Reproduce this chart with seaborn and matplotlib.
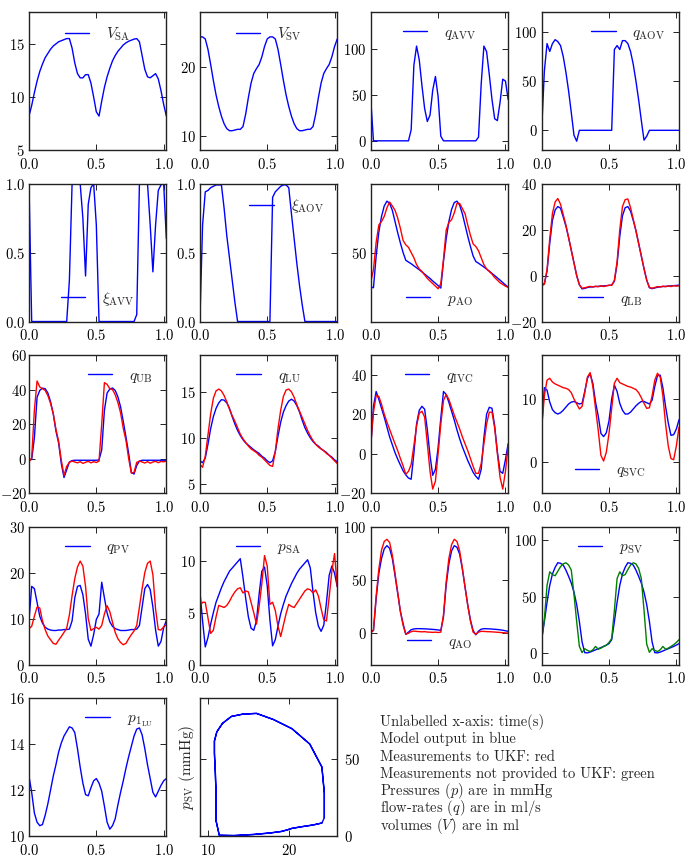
import numpy as np
import seaborn as sns
import matplotlib as mpl
mpl.use('Agg')
import matplotlib.pyplot as plt

# time axis: two heart beats, read every 0.02 s (52 samples)
t = np.linspace(0, 1.02, 52)

# each list: 4 rows of 13 samples (0-0.24, 0.26-0.50, 0.52-0.76, 0.78-1.02)
v_sa = [8.2, 9.2, 10.4, 11.5, 12.4, 13.1, 13.7, 14.1, 14.5, 14.8, 15.0, 15.2, 15.3,
        15.4, 15.5, 15.5, 14.6, 13.2, 12.2, 11.8, 11.8, 12.1, 12.1, 11.3, 10.0, 8.6,
        8.2, 9.6, 10.9, 11.9, 12.7, 13.4, 13.9, 14.3, 14.6, 14.9, 15.1, 15.25, 15.35,
        15.45, 15.5, 15.2, 13.9, 12.6, 11.9, 11.8, 12.0, 12.2, 11.7, 10.6, 9.3, 8.2]

v_sv = [24.4, 24.4, 24.1, 22.6, 20.4, 18.1, 16.0, 14.3, 12.9, 11.8, 11.1, 10.8, 10.8,
        10.9, 11.0, 11.0, 11.4, 13.2, 15.6, 17.7, 19.1, 19.8, 20.4, 21.5, 23.0, 24.1,
        24.4, 24.4, 24.1, 22.6, 20.4, 18.1, 16.0, 14.3, 12.9, 11.8, 11.1, 10.8, 10.8,
        10.9, 11.0, 11.0, 11.4, 13.2, 15.6, 17.7, 19.1, 19.8, 20.4, 21.5, 23.0, 24.1]

q_avv = [45, 0, 0, 0, 0, 0, 0, 0, 0, 0, 0, 0, 0,
         0, 0, 12, 82, 103, 88, 60, 35, 21, 28, 55, 70, 48,
         5, 0, 0, 0, 0, 0, 0, 0, 0, 0, 0, 0, 0,
         0, 4, 62, 103, 97, 72, 45, 24, 22, 42, 67, 65, 45]

q_aov = [0, 60, 88, 80, 88, 92, 90, 86, 75, 59, 40, 18, -5,
         -11, 0, 0, 0, 0, 0, 0, 0, 0, 0, 0, 0, 0,
         0, 82, 86, 82, 91, 91, 88, 80, 67, 50, 31, 10, -10,
         -6, 0, 0, 0, 0, 0, 0, 0, 0, 0, 0, 0, 0]

xi_avv = [1.0, 0, 0, 0, 0, 0, 0, 0, 0, 0, 0, 0, 0,
          0, 0, 0.3, 1.0, 1.0, 1.0, 1.0, 0.75, 0.33, 0.85, 0.97, 1.0, 0.7,
          0, 0, 0, 0, 0, 0, 0, 0, 0, 0, 0, 0, 0,
          0, 0.05, 1.0, 1.0, 1.0, 1.0, 0.7, 0.36, 0.7, 0.95, 0.99, 1.0, 0.6]

xi_aov = [0, 0.7, 0.94, 0.95, 0.97, 0.98, 0.99, 0.99, 0.99, 0.82, 0.62, 0.46, 0.30,
          0.14, 0, 0, 0, 0, 0, 0, 0, 0, 0, 0, 0, 0,
          0, 0.9, 0.94, 0.96, 0.98, 0.99, 0.99, 0.97, 0.78, 0.60, 0.42, 0.26, 0.12,
          0, 0, 0, 0, 0, 0, 0, 0, 0, 0, 0, 0, 0]

p_ao = [30.0, 29.6, 48, 62, 71, 77, 79.8, 78.5, 74.5, 68, 61.5, 55.5, 50,
        45.5, 44.5, 43.5, 42.3, 41.2, 40, 38.8, 37.5, 36.2, 35, 33.5, 32.2, 30.8,
        29.4, 45, 58, 68, 75, 79, 79.8, 77.5, 72.5, 66, 59.5, 53.5, 48,
        44.8, 43.8, 42.7, 41.6, 40.4, 39.2, 37.9, 36.6, 35.3, 34, 32.6, 31.2, 30]
p_ao_meas = [33, 40, 56, 66, 68, 71, 76, 79.3, 77, 74.5, 70, 64, 57,
             54.5, 53, 50, 47, 43, 40.5, 39, 37, 35, 33.5, 32, 30.5, 29,
             32, 46, 63, 67.5, 69, 73, 78.5, 78.5, 75.5, 72.5, 66, 60, 55,
             53.5, 51, 47, 43, 40.5, 39, 37.5, 35.5, 34, 32.5, 31.5, 30.5, 29.8]

q_lb = [-4.2, -3.5, 2, 14, 24, 28.5, 30, 29.3, 25.5, 21.5, 16.5, 11, 5.5,
        0, -4, -5.8, -5.6, -5.2, -5, -4.9, -4.8, -4.7, -4.6, -4.5, -4.4, -4.3,
        -4.1, -2.5, 5, 17, 26, 29.5, 30, 28, 24, 19.5, 14, 8.5, 3,
        -2, -5.3, -5.7, -5.4, -5.1, -4.9, -4.8, -4.7, -4.6, -4.5, -4.4, -4.3, -4.2]
q_lb_meas = [-4.5, -3.8, 2.5, 16, 27, 32, 33.5, 31, 26.5, 22, 16.5, 11, 5.5,
             0, -4, -5.5, -5.3, -5, -4.7, -5, -4.6, -4.9, -4.4, -4.8, -4.5, -4.2,
             -4.3, -2, 6, 20, 30, 33, 33.3, 29.5, 24.5, 19.5, 14, 8.5, 3,
             -2, -5.2, -5.5, -5.2, -4.8, -5, -4.6, -4.9, -4.5, -4.8, -4.4, -4.6, -4.5]

q_ub = [-1, -0.5, 12, 35.5, 39.5, 40.8, 40.5, 38, 33, 26, 16, 9, -3,
        -11, -6.5, -2, -1.2, -1, -1, -1, -1, -1, -1, -1, -1, -1,
        -0.8, 5, 28, 38, 40.3, 40.9, 39.5, 35.8, 30, 21.5, 12.5, 3, -8,
        -9, -4, -1.5, -1, -1, -1, -1, -1, -1, -1, -1, -1, -1]
q_ub_meas = [-2, 0.5, 28, 45, 41.5, 40.5, 39.5, 36.5, 32, 26, 17, 10, -1,
             -9.8, -4.5, -2.2, -1.5, -2, -2.5, -1.8, -2.8, -2.2, -1.6, -2.5, -1.8, -2.3,
             -1.5, 20, 44, 43, 40.5, 40, 37, 32.5, 26.5, 17.5, 10.5, 0, -8.5,
             -8, -2.2, -1.5, -2, -2.6, -1.8, -2.7, -2, -1.6, -2.4, -1.7, -1.9, -1.5]

q_lu = [7.5, 7.3, 7.8, 9.3, 11.0, 12.3, 13.2, 13.8, 14.15, 14.1, 13.8, 13.2, 12.3,
        11.5, 10.8, 10.25, 9.8, 9.45, 9.2, 8.95, 8.7, 8.5, 8.3, 8.0, 7.8, 7.5,
        7.3, 7.5, 8.5, 10.2, 11.7, 12.8, 13.5, 14.0, 14.2, 14.0, 13.5, 12.8, 11.9,
        11.1, 10.5, 10.0, 9.6, 9.3, 9.1, 8.8, 8.6, 8.4, 8.1, 7.9, 7.6, 7.4]
q_lu_meas = [7.1, 6.8, 8.0, 10.3, 12.6, 14.3, 15.1, 15.3, 15.1, 14.6, 13.9, 13.1, 12.4,
             11.8, 11.1, 10.4, 9.9, 9.5, 9.1, 8.8, 8.6, 8.4, 8.1, 7.9, 7.6, 7.3,
             7.0, 6.9, 8.5, 11.0, 13.0, 14.5, 15.2, 15.3, 15.0, 14.4, 13.6, 12.9, 12.2,
             11.5, 10.8, 10.2, 9.7, 9.3, 9.0, 8.8, 8.6, 8.3, 8.1, 7.8, 7.5, 7.2]

q_ivc = [3, 24, 31.5, 27.5, 23, 18.5, 13.5, 8.5, 4.5, 0.5, -2.8, -5.8, -8.7,
         -10.8, -12.4, -13, 0, 15, 22, 24, 22.5, 12, -1, -11, -8, 3,
         18, 31.5, 30, 26, 21.5, 17, 12, 7.5, 3.5, 0, -3.5, -6.5, -9.5,
         -11.5, -13, -8, 8, 20, 23.5, 23, 14, 1, -9, -10, -3, 5]
q_ivc_meas = [5, 21, 29.5, 29, 25, 20, 16, 12.3, 8.6, 5, 1.5, -2.5, -6.2,
              -10.5, -9, -5.5, 4, 14, 20.5, 21.5, 18.5, 5, -9, -18, -14, 0,
              15, 27, 30, 27.5, 23.5, 19.5, 16, 12.5, 8.5, 5, 1.5, -2.5, -6.5,
              -10, -10, -5, 5, 15, 21, 21, 13, 0, -12, -18, -9, 4]

q_svc = [5.5, 11.8, 11.4, 9.5, 8.3, 7.8, 7.6, 7.8, 8.2, 8.7, 9.2, 9.5, 9.6,
         9.4, 9.2, 9.3, 11.2, 13.3, 14.0, 12.5, 9.5, 7.3, 4.5, 4.0, 4.6, 6.5,
         10.0, 12.2, 11.2, 9.3, 8.2, 7.6, 7.6, 7.9, 8.4, 8.9, 9.3, 9.6, 9.6,
         9.4, 9.2, 9.8, 12.0, 13.7, 13.8, 11.8, 8.8, 6.2, 4.2, 4.3, 5.2, 6.7]
q_svc_meas = [5.3, 10.5, 13, 13.3, 12.7, 12.4, 12.2, 12, 11.8, 11.7, 11.5, 11.0, 10.0,
              9.2, 8.4, 8.8, 11, 13.5, 14.2, 12, 8.5, 5, 1, 0.1, 1.5, 4.5,
              8.5, 12.5, 13.3, 12.6, 12.4, 12.2, 12.0, 11.9, 11.7, 11.5, 11.0, 10.2, 9.3,
              8.5, 8.6, 10.5, 13, 14.1, 13.5, 10.5, 6, 2.5, 0.5, 0.3, 2.5, 5.5]

q_pv = [9.6, 17.0, 16.5, 13.5, 10.5, 9.0, 8.1, 7.7, 7.5, 7.4, 7.4, 7.5, 7.5,
        7.6, 7.6, 7.7, 9.5, 14.5, 17.0, 17.2, 15.2, 11.0, 5.5, 4.0, 6.5, 9.8,
        11.0, 17.9, 14.5, 11.2, 9.3, 8.3, 7.8, 7.6, 7.4, 7.4, 7.4, 7.5, 7.6,
        7.6, 7.7, 8.5, 12.5, 16.5, 17.4, 16.3, 12.5, 7.5, 4.0, 5.0, 8.0, 9.6]
q_pv_meas = [7.8, 8.3, 10.5, 12.5, 12.3, 9.5, 7.6, 6.2, 5.4, 4.6, 4.4, 5.3, 6.1,
             7.0, 7.9, 10.8, 15.0, 18.7, 21.2, 22.5, 21.4, 17.0, 10.0, 7.4, 7.8, 8.1,
             7.7, 8.5, 11.0, 12.8, 11.5, 9.2, 7.0, 5.6, 4.8, 4.3, 4.6, 5.6, 6.5,
             7.3, 8.5, 12.5, 16.5, 20.0, 22.0, 22.5, 19.5, 12.0, 7.6, 7.5, 8.2, 8.7]

p_sa = [7.1, 4.2, 1.7, 2.6, 3.9, 5.0, 6.0, 6.7, 7.4, 8.0, 8.5, 9.0, 9.3,
        9.6, 9.9, 10.2, 8.4, 6.4, 4.6, 3.5, 3.3, 4.2, 6.8, 9.0, 9.4, 7.6,
        4.3, 1.8, 2.4, 3.7, 4.9, 5.8, 6.6, 7.2, 7.8, 8.3, 8.8, 9.2, 9.5,
        9.8, 10.1, 9.3, 7.0, 5.0, 3.7, 3.2, 3.8, 6.0, 8.6, 9.5, 8.8, 7.5]
p_sa_meas = [5.6, 6.0, 6.0, 4.5, 3.0, 3.3, 4.6, 5.7, 5.6, 5.5, 5.7, 6.1, 6.6,
             7.0, 7.3, 7.4, 6.9, 7.1, 7.0, 6.0, 5.0, 3.9, 5.6, 7.8, 10.5, 9.5,
             5.8, 6.0, 5.2, 3.7, 2.7, 3.8, 4.9, 5.8, 5.6, 5.5, 5.9, 6.3, 6.7,
             7.1, 7.3, 7.2, 6.9, 7.2, 6.6, 5.4, 4.3, 4.2, 6.5, 9.0, 10.7, 7.5]

q_ao = [0.6, 2, 32, 56, 70, 79, 82, 79.5, 70, 54, 37, 20, 8.5,
        -1.5, 0.5, 2.8, 3.5, 3.8, 3.8, 3.7, 3.6, 3.5, 3.3, 3.1, 2.9, 2.6,
        2.2, 15, 45, 65, 77, 82, 80.5, 74, 60, 43, 26, 12, 2,
        -2, 1.5, 3.3, 3.8, 3.7, 3.6, 3.4, 3.2, 3.0, 2.7, 2.3, 1.8, 1.3]
q_ao_meas = [-0.3, 2.5, 35, 60, 78, 86, 88, 85, 73, 56, 38, 20, 7,
             -1.5, -0.5, 1, 1.5, 1.2, 1.0, 0.8, 1.0, 0.6, 0.5, 0.3, 0.5, 0.2,
             0.5, 17, 48, 70, 83, 88, 86, 77, 61, 43, 26, 11, 0.5,
             -1.5, 0.5, 1.3, 1.2, 1.0, 0.9, 0.8, 0.6, 0.4, 0.2, 0, -0.2, -0.4]

p_sv = [12, 28, 45, 60, 70, 76, 80, 79.5, 78, 73.5, 68, 62, 54,
        43, 28, 10, 0.5, 0.3, 1, 2, 3, 4, 5, 6, 7.2, 8.5,
        12, 28, 45, 60, 70, 76, 80, 79.5, 78, 73.5, 68, 62, 54,
        43, 28, 10, 0.5, 0.3, 1, 2, 3, 4, 5, 6, 7.2, 8.5]
p_sv_hidden = [12, 30, 60, 72, 69.5, 68.5, 72.5, 76.5, 79, 80, 78, 73.5, 52,
               28, 6, 0.5, 4, 2.5, 1.5, 3, 6, 3.5, 4.5, 6, 7, 9.5,
               13, 38, 66, 72, 68.5, 69.5, 74, 78, 80, 79, 75, 66, 38,
               8, 0.8, 4, 2.5, 1.5, 3, 6, 3.5, 4.5, 6, 7.5, 9.5, 12]

p1_lu = [12.6, 11.9, 11.0, 10.6, 10.45, 10.5, 10.9, 11.4, 12.0, 12.6, 13.1, 13.65, 14.05,
         14.35, 14.55, 14.75, 14.7, 14.5, 13.8, 13.0, 12.3, 11.8, 11.75, 12.1, 12.4, 12.5,
         12.3, 11.95, 11.3, 10.6, 10.3, 10.45, 10.75, 11.35, 11.9, 12.4, 12.95, 13.45, 13.9,
         14.35, 14.65, 14.7, 14.4, 13.8, 13.1, 12.5, 11.9, 11.7, 11.95, 12.2, 12.4, 12.5]

notes = ["Unlabelled x-axis: time(s)",
         "Model output in blue",
         "Measurements to UKF: red",
         "Measurements not provided to UKF: green",
         "Pressures ($p$) are in mmHg",
         "flow-rates ($q$) are in ml/s",
         "volumes ($V$) are in ml"]

BLUE, RED, GREEN = "#0000ff", "#ff0000", "#008000"

# (row, col, model, measured, measured colour, label, legend loc, ylim, yticks)
panels = [
    (0, 0, v_sa, None, None, r"$V_{\mathrm{SA}}$", "upper center", (5, 18), [5, 10, 15]),
    (0, 1, v_sv, None, None, r"$V_{\mathrm{SV}}$", "upper center", (8, 28), [10, 20]),
    (0, 2, q_avv, None, None, r"$q_{\mathrm{AVV}}$", "upper center", (-10, 140), [0, 50, 100]),
    (0, 3, q_aov, None, None, r"$q_{\mathrm{AOV}}$", "upper right", (-20, 120), [0, 50, 100]),
    (1, 0, xi_avv, None, None, r"$\xi_{\mathrm{AVV}}$", "lower center", (0, 1), [0, 0.5, 1]),
    (1, 1, xi_aov, None, None, r"$\xi_{\mathrm{AOV}}$", "upper right", (0, 1), [0, 0.5, 1]),
    (1, 2, p_ao, p_ao_meas, RED, r"$p_{\mathrm{AO}}$", "lower center", (10, 90), [50]),
    (1, 3, q_lb, q_lb_meas, RED, r"$q_{\mathrm{LB}}$", "lower center", (-20, 40), [-20, 0, 20, 40]),
    (2, 0, q_ub, q_ub_meas, RED, r"$q_{\mathrm{UB}}$", "upper right", (-20, 60), [-20, 0, 20, 40, 60]),
    (2, 1, q_lu, q_lu_meas, RED, r"$q_{\mathrm{LU}}$", "upper center", (4, 19), [5, 10, 15]),
    (2, 2, q_ivc, q_ivc_meas, RED, r"$q_{\mathrm{IVC}}$", "upper center", (-20, 50), [-20, 0, 20, 40]),
    (2, 3, q_svc, q_svc_meas, RED, r"$q_{\mathrm{SVC}}$", "lower center", (-5, 17), [0, 10]),
    (3, 0, q_pv, q_pv_meas, RED, r"$q_{\mathrm{PV}}$", "upper center", (0, 30), [0, 10, 20, 30]),
    (3, 1, p_sa, p_sa_meas, RED, r"$p_{\mathrm{SA}}$", "upper center", (0, 13.3), [0, 5, 10]),
    (3, 2, q_ao, q_ao_meas, RED, r"$q_{\mathrm{AO}}$", "lower center", (-30, 100), [0, 50, 100]),
    (3, 3, p_sv, p_sv_hidden, GREEN, r"$p_{\mathrm{SV}}$", "upper center", (-10, 112), [0, 50, 100]),
    (4, 0, p1_lu, None, None, r"$p_{1_{\mathrm{LU}}}$", "upper right", (10, 16), [10, 12, 14, 16]),
]

sns.set_theme(style="white", rc={
    "xtick.direction": "in", "ytick.direction": "in",
    "xtick.top": True, "ytick.right": True,
    "xtick.bottom": True, "ytick.left": True,
    "xtick.major.size": 4, "ytick.major.size": 4,
    "xtick.major.width": 0.6, "ytick.major.width": 0.6,
    "xtick.major.pad": 5, "ytick.major.pad": 3,
    "axes.edgecolor": "#222222", "axes.linewidth": 1.0,
    "xtick.color": "black", "ytick.color": "black",
    "xtick.labelsize": 10.5, "ytick.labelsize": 10.5,
    "legend.fontsize": 11, "axes.labelsize": 11,
})
plt.rcParams["font.family"] = ["cmr10"]
plt.rcParams["mathtext.fontset"] = "cm"
plt.rcParams["axes.formatter.use_mathtext"] = True

fig, axes = plt.subplots(5, 4, figsize=(6.87, 8.61), dpi=100)
fig.subplots_adjust(left=0.0422, right=0.9884, bottom=0.029, top=0.986,
                    wspace=0.244, hspace=0.243)


def draw(ax, y, color, label=None, x=t):
    sns.lineplot(x=x, y=y, ax=ax, color=color, lw=1.0, label=label,
                 estimator=None, sort=False)


for row, col, model, meas, mcol, label, loc, ylim, yticks in panels:
    ax = axes[row, col]
    draw(ax, model, BLUE, label)
    if meas is not None:
        draw(ax, meas, mcol)
    ax.set_xlim(0, 1.02)
    ax.set_xticks([0, 0.5, 1.0])
    ax.set_ylim(*ylim)
    ax.set_yticks(yticks)
    ax.legend(loc=loc, frameon=False, handlelength=1.6, handletextpad=1.1,
              borderaxespad=0.5)

# the -20 label of the left column sits right at the figure edge
axes[2, 0].tick_params(axis="y", pad=1.5)

# pressure-volume loop of the systemic ventricle
ax = axes[4, 1]
draw(ax, p_sv, BLUE, x=v_sv)
ax.set_xlim(9, 26)
ax.set_xticks([10, 20])
ax.set_ylim(0, 90)
ax.set_yticks([0, 50])
ax.tick_params(axis="y", labelleft=False, labelright=True, pad=5)
ax.set_ylabel(r"$p_{\mathrm{SV}}$ (mmHg)", labelpad=2)
if ax.get_legend() is not None:
    ax.get_legend().remove()

axes[4, 2].axis("off")
axes[4, 3].axis("off")
for i, line in enumerate(notes):
    fig.text(380 / 687, 1 - (726 + 17.3 * i) / 861, line, ha="left",
             va="baseline", fontsize=10.5)

fig.savefig("out.png", dpi=100)
